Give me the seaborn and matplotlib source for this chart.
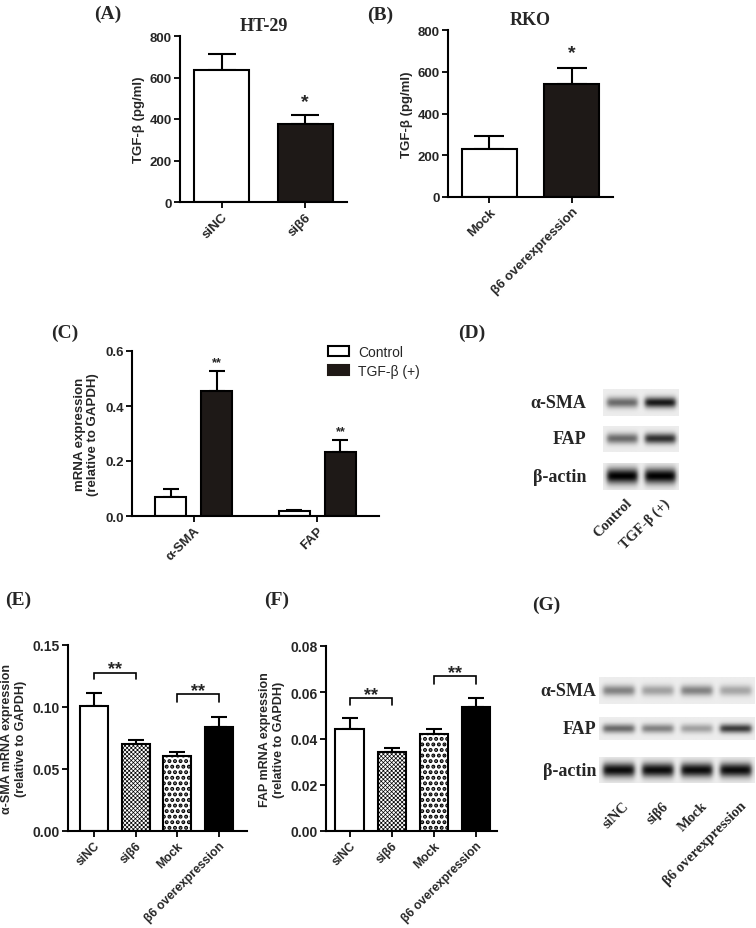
import numpy as np
import pandas as pd
import seaborn as sns
import matplotlib.pyplot as plt
from matplotlib.patches import Patch

# panel A / B : TGF-beta secretion
a_groups = ['siNC', 'siβ6']
a_vals = [635, 377]
a_errs = [78, 40]

b_groups = ['Mock', 'β6 overexpression']
b_vals = [230, 541]
b_errs = [62, 77]

# panel C : mRNA in fibroblasts
c_genes = ['α-SMA', 'FAP']
c_control = [0.069, 0.017]
c_control_err = [0.030, 0.006]
c_tgf = [0.453, 0.234]
c_tgf_err = [0.074, 0.042]

# panels E / F
ef_groups = ['siNC', 'siβ6', 'Mock', 'β6 overexpression']
e_vals = [0.1005, 0.0702, 0.0608, 0.0836]
e_errs = [0.0104, 0.0035, 0.0030, 0.0085]
f_vals = [0.0443, 0.0342, 0.0418, 0.0536]
f_errs = [0.0044, 0.0015, 0.0025, 0.0041]

# western blots (relative band intensity)
d_lanes = ['Control', 'TGF-β (+)']
d_rows = ['α-SMA', 'FAP', 'β-actin']
d_bands = [[0.55, 0.90], [0.55, 0.80], [1.0, 1.0]]
g_lanes = ['siNC', 'siβ6', 'Mock', 'β6 overexpression']
g_bands = [[0.45, 0.32, 0.45, 0.30], [0.55, 0.45, 0.32, 0.75], [0.95, 0.95, 0.95, 0.95]]

DARK = '#1f1916'
W, H = 756, 929

sns.set_style('ticks')
plt.rcParams['font.family'] = ['Liberation Sans', 'DejaVu Sans']
plt.rcParams['font.weight'] = 'bold'
plt.rcParams['axes.labelweight'] = 'bold'
plt.rcParams['hatch.linewidth'] = 0.7

fig = plt.figure(figsize=(W / 100, H / 100), dpi=100)


def px_axes(l, t, r, b):
    return fig.add_axes([l / W, 1 - b / H, (r - l) / W, (b - t) / H])


def style_axes(ax, fs):
    sns.despine(ax=ax)
    for s in ['left', 'bottom']:
        ax.spines[s].set_linewidth(1.5)
        ax.spines[s].set_color('black')
    ax.tick_params(axis='both', length=4, width=1.3, color='black', pad=2)
    ax.tick_params(axis='y', labelsize=fs)
    for lab in ax.get_yticklabels() + ax.get_xticklabels():
        lab.set_fontweight('bold')


def rot_labels(ax, labels, fs):
    ax.set_xticks(range(len(labels)))
    ax.set_xticklabels(labels, rotation=45, ha='right', rotation_mode='anchor',
                       fontsize=fs, fontweight='bold')


def up_err(ax, x, y, e, cap):
    ax.errorbar(x, y, yerr=[np.zeros(len(e)), e], fmt='none', ecolor='black',
                elinewidth=1.5, capsize=cap, capthick=1.5, zorder=1)


def panel_label(x, y, s):
    fig.text(x / W, 1 - y / H, s, ha='center', va='center', fontsize=14,
             fontfamily='Liberation Serif', fontweight='bold')


# ---- (A)
ax = px_axes(180, 37, 347, 203)
up_err(ax, range(2), a_vals, a_errs, 10)
sns.barplot(x=a_groups, y=a_vals, hue=a_groups, palette=['white', DARK], legend=False,
            edgecolor='black', linewidth=1.5, width=0.66, ax=ax, zorder=2)
ax.set_xlim(-0.5, 1.5)
ax.set_ylim(0, 800)
ax.set_yticks([0, 200, 400, 600, 800])
ax.set_ylabel('TGF-β (pg/ml)', fontsize=9.5, labelpad=3)
rot_labels(ax, a_groups, 9.5)
ax.text(1, 462, '*', ha='center', va='baseline', fontsize=14)
style_axes(ax, 9.5)
ax.set_title('HT-29', fontfamily='Liberation Serif', fontweight='bold', fontsize=13, pad=4)

# ---- (B)
ax = px_axes(448, 31, 613, 198)
up_err(ax, range(2), b_vals, b_errs, 11)
sns.barplot(x=b_groups, y=b_vals, hue=b_groups, palette=['white', DARK], legend=False,
            edgecolor='black', linewidth=1.5, width=0.67, ax=ax, zorder=2)
ax.set_xlim(-0.5, 1.5)
ax.set_ylim(0, 800)
ax.set_yticks([0, 200, 400, 600, 800])
ax.set_ylabel('TGF-β (pg/ml)', fontsize=9.5, labelpad=3)
rot_labels(ax, b_groups, 9.5)
ax.text(1, 672, '*', ha='center', va='baseline', fontsize=14)
style_axes(ax, 9.5)
ax.set_title('RKO', fontfamily='Liberation Serif', fontweight='bold', fontsize=13, pad=4)

# ---- (C)
ax = px_axes(132, 352, 379, 517)
c_df = pd.DataFrame({
    'gene': c_genes * 2,
    'value': c_control + c_tgf,
    'group': ['Control'] * 2 + ['TGF-β (+)'] * 2,
})
off = 0.1875
up_err(ax, np.arange(2) - off, c_control, c_control_err, 5.5)
up_err(ax, np.arange(2) + off, c_tgf, c_tgf_err, 5.5)
sns.barplot(data=c_df, x='gene', y='value', hue='group', palette=['white', DARK],
            width=0.75, gap=0.333, edgecolor='black', linewidth=1.5, legend=False,
            ax=ax, zorder=2)
ax.set_xlim(-0.5, 1.5)
ax.set_ylim(0, 0.6)
ax.set_yticks([0, 0.2, 0.4, 0.6])
ax.set_yticklabels(['0.0', '0.2', '0.4', '0.6'])
ax.set_xlabel('')
ax.set_ylabel('mRNA expression\n(relative to GAPDH)', fontsize=9.5, labelpad=4)
rot_labels(ax, c_genes, 9.5)
for i, v in enumerate(c_tgf):
    ax.text(i + off, v + c_tgf_err[i] + 0.022, '**', ha='center', va='baseline', fontsize=9)
style_axes(ax, 9.5)
handles = [Patch(facecolor='white', edgecolor='black', linewidth=1.5, label='Control'),
           Patch(facecolor=DARK, edgecolor=DARK, linewidth=1.5, label='TGF-β (+)')]
leg = fig.legend(handles=handles, loc='upper left', bbox_to_anchor=(321 / W, 1 - 339 / H),
                 frameon=False, prop={'size': 10, 'weight': 'normal'}, handlelength=1.5,
                 handleheight=0.8, labelspacing=0.35, handletextpad=0.7, borderpad=0)


# ---- (E) / (F)
def ef_panel(box, vals, errs, ylim, yticks, ylabel, brackets):
    ax = px_axes(*box)
    up_err(ax, range(4), vals, errs, 5.5)
    sns.barplot(x=ef_groups, y=vals, hue=ef_groups, palette=['white', 'white', 'white', 'black'],
                legend=False, edgecolor='black', linewidth=1.5, width=0.67, ax=ax, zorder=2)
    pats = [p for p in ax.patches]
    pats[1].set_hatch('xxxxxxxx')
    pats[2].set_hatch('...')
    if hasattr(pats[2], 'set_hatch_linewidth'):
        pats[1].set_hatch_linewidth(0.5)
        pats[2].set_hatch_linewidth(2.0)
    ax.set_ylim(*ylim)
    ax.set_yticks(yticks)
    ax.set_yticklabels([f'{t:.2f}' for t in yticks])
    ax.set_ylabel(ylabel, fontsize=9, labelpad=4)
    rot_labels(ax, ef_groups, 8.7)
    for (x0, x1, top, leg_end, star) in brackets:
        ax.plot([x0, x0, x1, x1], [leg_end, top, top, leg_end], color='black', lw=1.2,
                solid_joinstyle='miter')
        ax.text((x0 + x1) / 2, star, '**', ha='center', va='center', fontsize=13)
    style_axes(ax, 10)
    return ax


ax = ef_panel((68, 646, 247, 832), e_vals, e_errs, (0, 0.15), [0, 0.05, 0.10, 0.15],
              'α-SMA mRNA expression\n(relative to GAPDH)',
              [(0, 1, 0.1278, 0.1224, 0.1310), (2, 3, 0.1104, 0.1037, 0.1136)])
ax.set_xlim(-0.62, 3.67)
ax = ef_panel((326, 647, 497, 832), f_vals, f_errs, (0, 0.08), [0, 0.02, 0.04, 0.06, 0.08],
              'FAP mRNA expression\n(relative to GAPDH)',
              [(0, 1, 0.0574, 0.0543, 0.0590), (2, 3, 0.0670, 0.0637, 0.0686)])
ax.set_xlim(-0.56, 3.5)


# ---- western blots
def blot_image(levels, thick):
    n = len(levels)
    xs = np.linspace(0, n, n * 60, endpoint=False)
    lane = xs.astype(int)
    u = xs - lane
    horiz = 1 / (1 + np.exp(-(u - 0.1) / 0.035)) / (1 + np.exp((u - 0.9) / 0.035))
    ys = np.linspace(0, 1, 40)
    vert = np.exp(-((ys - 0.5) / thick) ** 2)
    band = np.outer(vert, np.array(levels)[lane] * horiz)
    return 0.07 + 0.93 * band


def blot(rows_px, x0, x1, bands, label_x):
    for (t, b), lv, name in zip(rows_px, bands, d_rows):
        ax = px_axes(x0, t, x1, b)
        thick = 0.28 if name == 'β-actin' else 0.2
        ax.imshow(blot_image(lv, thick), cmap='gray_r', vmin=0, vmax=1, aspect='auto',
                  interpolation='bilinear')
        ax.axis('off')
        fig.text(label_x / W, 1 - (t + b) / 2 / H, name, ha='right', va='center',
                 fontsize=13, fontfamily='Liberation Serif', fontweight='bold')


blot([(390, 417), (427, 453), (464, 491)], 603, 679, d_bands, 586)
for i, lab in enumerate(d_lanes):
    cx = 603 + (i + 0.5) * 38
    fig.text((cx + 3) / W, 1 - 497 / H, lab, rotation=45, ha='right', va='top',
             rotation_mode='anchor', fontsize=10.5, fontfamily='Liberation Serif',
             fontweight='bold')

blot([(678, 705), (718, 741), (758, 784)], 599, 755, g_bands, 596)
for i, lab in enumerate(g_lanes):
    cx = 599 + (i + 0.5) * 39
    fig.text((cx + 4) / W, 1 - 800 / H, lab, rotation=45, ha='right', va='top',
             rotation_mode='anchor', fontsize=10.5, fontfamily='Liberation Serif',
             fontweight='bold')

panel_label(108, 14, '(A)')
panel_label(380, 15, '(B)')
panel_label(65, 333, '(C)')
panel_label(472, 333, '(D)')
panel_label(18, 600, '(E)')
panel_label(277, 600, '(F)')
panel_label(546, 605, '(G)')

fig.savefig('out.png', dpi=100)
